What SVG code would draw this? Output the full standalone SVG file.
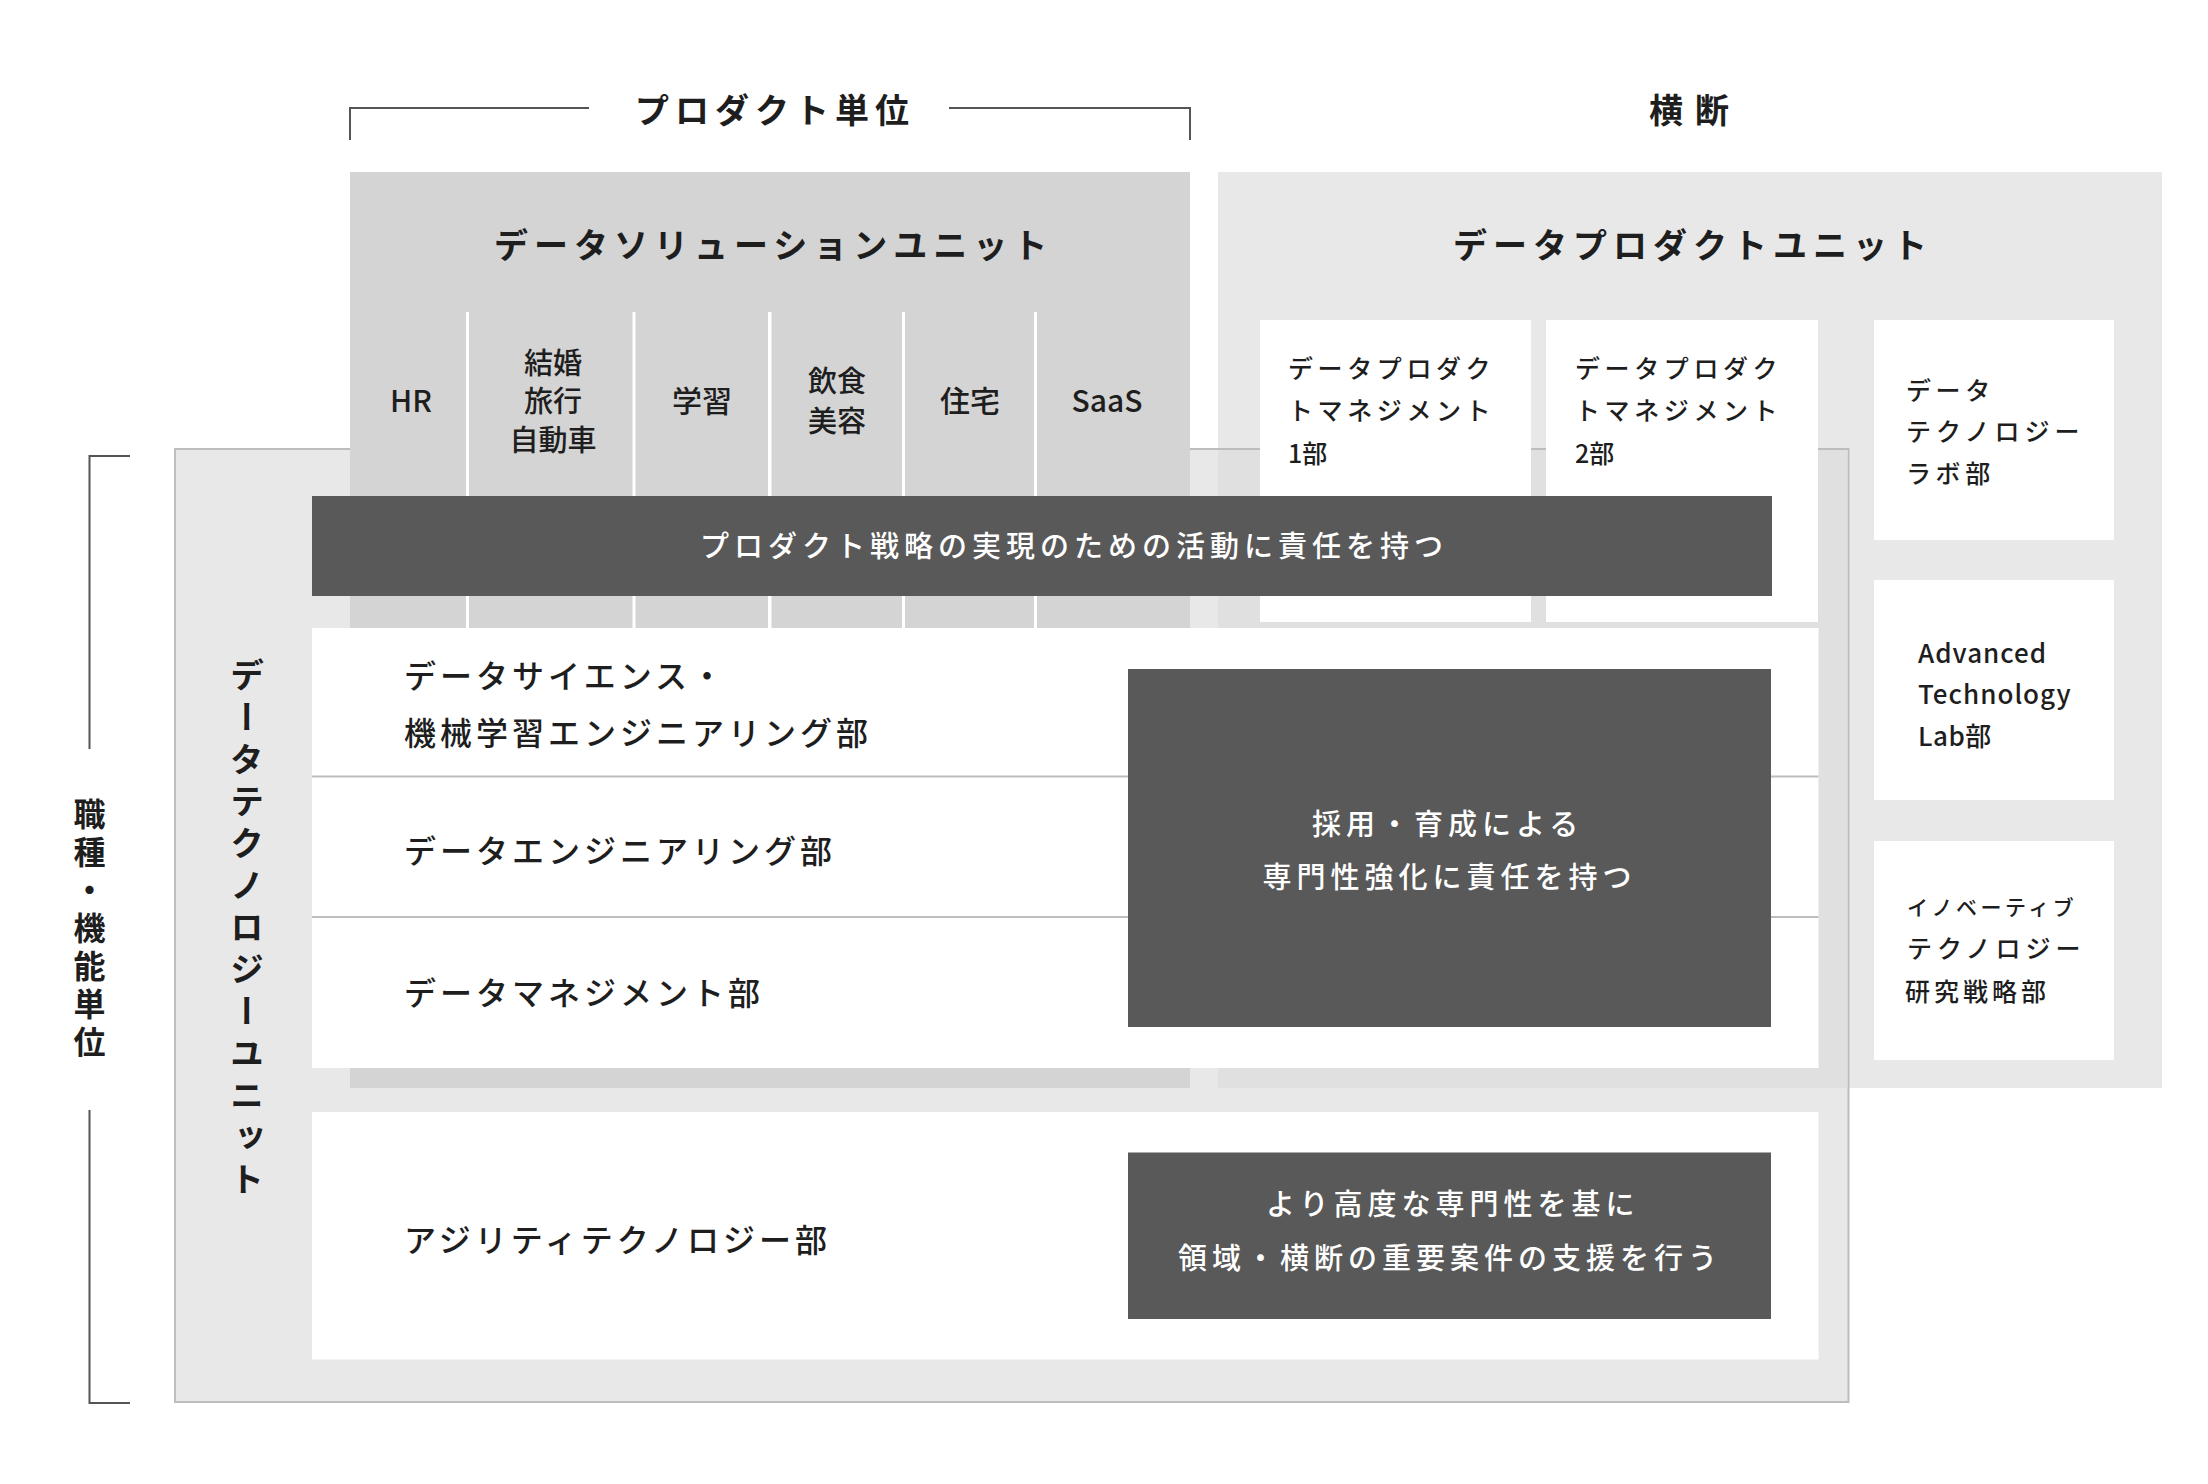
<svg xmlns="http://www.w3.org/2000/svg" width="2208" height="1484" viewBox="0 0 2208 1484">
<style>
text{font-family:"Noto Sans CJK JP","Noto Sans",sans-serif;fill:#1e1e1e;font-weight:500}
.ttl{font-size:34px;font-weight:700;letter-spacing:6px}
.col{font-size:29px;text-anchor:middle}
.row{font-size:32px;letter-spacing:4px}
.sm{font-size:25px;letter-spacing:4.6px}
.wt{font-size:29px;letter-spacing:5px;fill:#fff}
.vt{font-weight:700;writing-mode:vertical-rl}
.br{fill:none;stroke:#555;stroke-width:2}
.dark{fill:#595959}
.wh{fill:#fff}
</style>
<g id="brackets">
<path class="br" d="M350 140V108H589M949 108H1190V140"/>
<path class="br" d="M130 456H89.5V749M89.5 1110V1403H130"/>
</g>
<g id="data-product-unit-bg"><rect x="1218" y="172" width="944" height="916" fill="#e8e8e8"/></g>
<g id="data-technology-unit">
<rect x="175" y="449" width="1673.5" height="953" fill="#e8e8e8" stroke="#bdbdbd" stroke-width="2"/>
<rect x="1218" y="450" width="629.5" height="638" fill="#e0e0e0"/>
</g>
<g id="data-solution-unit">
<rect x="350" y="172" width="840" height="916" fill="#d4d4d4"/>
<g fill="#fff">
<rect x="466" y="312" width="3" height="316"/>
<rect x="632.5" y="312" width="3" height="316"/>
<rect x="768" y="312" width="3.5" height="316"/>
<rect x="902" y="312" width="3" height="316"/>
<rect x="1034" y="312" width="3" height="316"/>
</g>
<text class="ttl" x="494" y="258">データソリューションユニット</text>
<text class="col" x="411" y="412" style="font-size:30px">HR</text>
<text class="col" x="553" y="374">結婚</text>
<text class="col" x="553" y="412">旅行</text>
<text class="col" x="553" y="451">自動車</text>
<text class="col" x="702" y="412" style="font-size:30px">学習</text>
<text class="col" x="837" y="392">飲食</text>
<text class="col" x="837" y="432">美容</text>
<text class="col" x="970" y="412" style="font-size:30px">住宅</text>
<text class="col" x="1107" y="412" style="font-size:30px">SaaS</text>
</g>
<g id="dpm1"><rect class="wh" x="1260" y="320" width="271" height="302"/>
<text class="sm" x="1288" y="378">データプロダク</text>
<text class="sm" x="1288" y="420">トマネジメント</text>
<text class="sm" x="1288" y="463" style="letter-spacing:0">1部</text></g>
<g id="dpm2"><rect class="wh" x="1546" y="320" width="272" height="302"/>
<text class="sm" x="1575" y="378">データプロダク</text>
<text class="sm" x="1575" y="420">トマネジメント</text>
<text class="sm" x="1575" y="463" style="letter-spacing:0">2部</text></g>
<g id="data-tech-lab"><rect class="wh" x="1874" y="320" width="240" height="220"/>
<text class="sm" x="1906" y="400">データ</text>
<text class="sm" x="1906" y="441" style="letter-spacing:5px">テクノロジー</text>
<text class="sm" x="1906" y="483">ラボ部</text></g>
<g id="atl"><rect class="wh" x="1874" y="580" width="240" height="220"/>
<text class="sm" x="1918" y="663" style="font-size:26px;letter-spacing:1px">Advanced</text>
<text class="sm" x="1918" y="704" style="font-size:26px;letter-spacing:1px">Technology</text>
<text class="sm" x="1918" y="746" style="font-size:26px;letter-spacing:0.5px">Lab部</text></g>
<g id="itsr"><rect class="wh" x="1874" y="841" width="240" height="219"/>
<text class="sm" x="1907" y="915" style="font-size:21px;letter-spacing:3.5px">イノベーティブ</text>
<text class="sm" x="1907" y="958" style="letter-spacing:5px">テクノロジー</text>
<text class="sm" x="1905" y="1001" style="letter-spacing:4px">研究戦略部</text></g>
<g id="titles">
<text class="ttl" x="635" y="123">プロダクト単位</text>
<text class="ttl" x="1649" y="123" style="letter-spacing:12px">横断</text>
<text class="ttl" x="1453" y="258">データプロダクトユニット</text>
<text class="vt" x="89.5" y="798" style="font-size:32px;letter-spacing:6px">職種・機能単位</text>
<text class="vt" x="247" y="658" style="font-size:34px;letter-spacing:8px">データテクノロジーユニット</text>
</g>
<g id="departments">
<rect class="wh" x="312" y="628" width="1506.5" height="440"/>
<path d="M312 776.5H1818.5M312 917H1818.5" stroke="#bdbdbd" stroke-width="2"/>
<text class="row" x="404" y="688">データサイエンス・</text>
<text class="row" x="404" y="745">機械学習エンジニアリング部</text>
<text class="row" x="404" y="863">データエンジニアリング部</text>
<text class="row" x="404" y="1005">データマネジメント部</text>
</g>
<g id="agility">
<rect class="wh" x="312" y="1112" width="1506.5" height="247.5"/>
<text class="row" x="404" y="1252">アジリティテクノロジー部</text>
</g>
<g id="band-product">
<rect class="dark" x="312" y="496" width="1460" height="100"/>
<text class="wt" x="700" y="557">プロダクト戦略の実現のための活動に責任を持つ</text>
</g>
<g id="box-expertise">
<rect class="dark" x="1128" y="669" width="643" height="358"/>
<text class="wt" x="1312" y="835">採用・育成による</text>
<text class="wt" x="1262.5" y="888">専門性強化に責任を持つ</text>
</g>
<g id="box-support">
<rect class="dark" x="1128" y="1152.5" width="643" height="166.5"/>
<text class="wt" x="1266" y="1215">より高度な専門性を基に</text>
<text class="wt" x="1178" y="1269">領域・横断の重要案件の支援を行う</text>
</g>
<g id="connectors"/>
</svg>
